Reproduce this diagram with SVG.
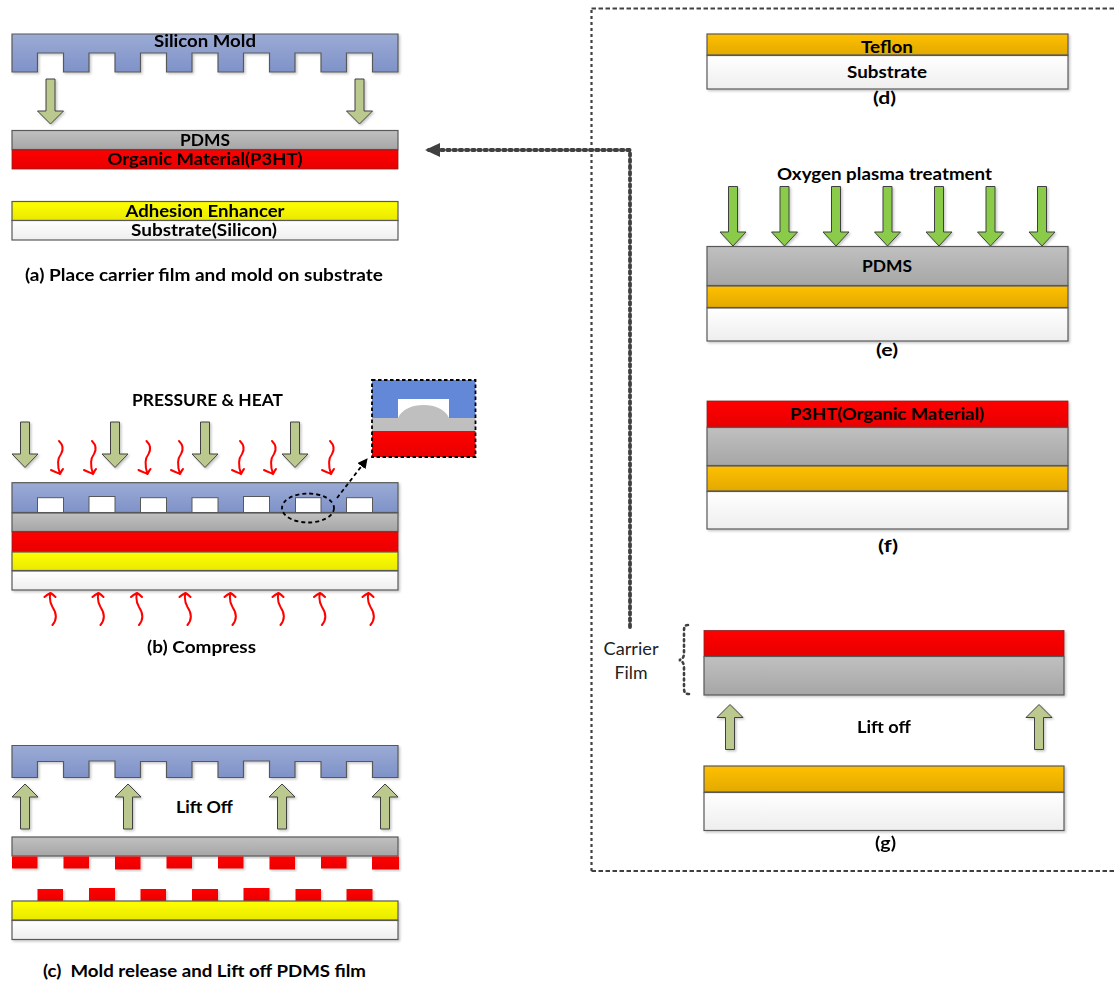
<svg xmlns="http://www.w3.org/2000/svg" width="1115" height="982" viewBox="0 0 1115 982">
<style>
text{font-family:Lato,Carlito,"Open Sans",sans-serif;fill:#000}
.b{font-weight:700;font-size:17px}
.r{font-size:18px;fill:#222}
.m{text-anchor:middle}
.ln{stroke:#595959;stroke-width:1.2}
.blue{fill:url(#gBlue)}.gray{fill:url(#gGray)}.red{fill:url(#gRed);stroke:#8a2020;stroke-width:.8}
.pad{fill:url(#gRed)}
.yel{fill:url(#gYel)}.org{fill:url(#gOrg)}.wht{fill:url(#gWht)}
.ar{fill:#bbc98f;stroke:#404040;stroke-width:1}
.gr{fill:#8acb4a;stroke:#404040;stroke-width:1}
.hw{fill:none;stroke:#ff0000;stroke-width:2;stroke-linecap:round;stroke-linejoin:round}
.dot{fill:none;stroke:#404040;stroke-linecap:round}
</style>
<defs>
<linearGradient id="gBlue" x1="0" y1="0" x2="0" y2="1"><stop offset="0" stop-color="#9babd5"/><stop offset="1" stop-color="#7f92c8"/></linearGradient>
<linearGradient id="gGray" x1="0" y1="0" x2="0" y2="1"><stop offset="0" stop-color="#c0c0c0"/><stop offset="1" stop-color="#a6a6a6"/></linearGradient>
<linearGradient id="gRed" x1="0" y1="0" x2="0" y2="1"><stop offset="0" stop-color="#ff0000"/><stop offset="1" stop-color="#e80000"/></linearGradient>
<linearGradient id="gYel" x1="0" y1="0" x2="0" y2="1"><stop offset="0" stop-color="#ffff00"/><stop offset="1" stop-color="#e9e900"/></linearGradient>
<linearGradient id="gOrg" x1="0" y1="0" x2="0" y2="1"><stop offset="0" stop-color="#ffc000"/><stop offset="1" stop-color="#e2a900"/></linearGradient>
<linearGradient id="gWht" x1="0" y1="0" x2="0" y2="1"><stop offset="0" stop-color="#ffffff"/><stop offset="1" stop-color="#eeeeee"/></linearGradient>
<filter id="sh" x="-5%" y="-10%" width="110%" height="125%"><feDropShadow dx="1.5" dy="1.5" stdDeviation="1" flood-color="#000" flood-opacity=".22"/></filter>
<marker id="tip" markerUnits="userSpaceOnUse" markerWidth="16" markerHeight="16" refX="14" refY="7" orient="auto"><path d="M0 0L15 7L0 14Z" fill="#404040"/></marker>
<marker id="tip2" markerUnits="userSpaceOnUse" markerWidth="12" markerHeight="12" refX="9" refY="5" orient="auto"><path d="M0 0L10 5L0 10Z" fill="#000"/></marker>
<path id="down" d="M-4.500 0H4.500V32H13L0 45L-13 32H-4.500Z"/>
<path id="up" d="M0 0L13 13H4.500V45H-4.500V13H-13Z"/>
<path id="wd" d="M0 0C4 4 5 8 2 13C-2 18 -2 24 1 33M-8 29C-4 31 -1 32 1 33C2 31 3 29 4 28"/>
<path id="wu" d="M2 32C7 26 6 20 2 14C-1 9 -1 4 0 0M-6 4C-4 2 -2 1 0 0C2 1 4 3 5 4"/>
</defs>

<g id="mold-a" filter="url(#sh)"><path class="blue ln" d="M12 34H398V72H372.500V53H346.500V72H321V53H295V72H269.500V53H243.500V72H218V53H192V72H166.500V53H140.500V72H115V53H89V72H63.500V53H37.500V72H12Z"/><text class="b m" x="205" y="46.500" textLength="102" lengthAdjust="spacingAndGlyphs">Silicon Mold</text></g>
<g id="arrows-a" filter="url(#sh)"><use href="#down" class="ar" x="50.500" y="79"/><use href="#down" class="ar" x="359.500" y="79"/></g>
<g id="pdms-a"><rect class="gray ln" x="12" y="130.500" width="386" height="19"/><text class="b m" x="205" y="145.500" textLength="50" lengthAdjust="spacingAndGlyphs">PDMS</text></g>
<g id="organic-a"><rect class="red" x="12" y="150" width="386" height="19"/><text class="b m" x="205" y="165" textLength="195" lengthAdjust="spacingAndGlyphs">Organic Material(P3HT)</text></g>
<g id="adhesion-a"><rect class="yel ln" x="12" y="201.500" width="386" height="19"/><text class="b m" x="205" y="217" textLength="159" lengthAdjust="spacingAndGlyphs">Adhesion Enhancer</text></g>
<g id="substrate-a"><rect class="wht ln" x="12" y="220.500" width="386" height="19.500"/><text class="b m" x="204" y="236" textLength="146" lengthAdjust="spacingAndGlyphs">Substrate(Silicon)</text></g>
<text class="b m" x="204" y="281" textLength="358" lengthAdjust="spacingAndGlyphs">(a) Place carrier film and mold on substrate</text>

<text class="b m" x="207.500" y="406" textLength="151" lengthAdjust="spacingAndGlyphs">PRESSURE &amp; HEAT</text>
<g id="arrows-b" filter="url(#sh)"><path class="ar" d="M20.500 422H29.500V454H38L25 467.500L12 454H20.500Z"/><path class="ar" d="M110.500 422H119.500V454H128L115 467.500L102 454H110.500Z"/><path class="ar" d="M200.500 422H209.500V454H218L205 467.500L192 454H200.500Z"/><path class="ar" d="M290.500 422H299.500V454H308L295 467.500L282 454H290.500Z"/></g>
<g id="heat-top"><use href="#wd" class="hw" x="59" y="441"/><use href="#wd" class="hw" x="92" y="441"/><use href="#wd" class="hw" x="146.500" y="441"/><use href="#wd" class="hw" x="179" y="441"/><use href="#wd" class="hw" x="240" y="441"/><use href="#wd" class="hw" x="272" y="441"/><use href="#wd" class="hw" x="330" y="441"/></g>
<g id="mold-b" filter="url(#sh)"><rect class="blue ln" x="12" y="482.700" width="386" height="29.800"/>
<g fill="#fff" stroke="#595959"><rect x="37.500" y="497.700" width="26" height="14.800"/><rect x="89" y="496.500" width="26" height="16"/><rect x="140.500" y="497.700" width="26" height="14.800"/><rect x="192" y="497.700" width="26" height="14.800"/><rect x="243.500" y="496.500" width="26" height="16"/><rect x="295.500" y="497.700" width="25.500" height="14.800"/><rect x="346.500" y="497.700" width="26" height="14.800"/></g></g>
<g id="stack-b" filter="url(#sh)"><rect class="gray ln" x="12" y="513" width="386" height="18.500"/><rect class="red" x="12" y="532" width="386" height="19.500"/><rect class="yel ln" x="12" y="552" width="386" height="18.500"/><rect class="wht ln" x="12" y="571" width="386" height="19"/></g>
<g id="heat-bottom"><use href="#wu" class="hw" x="50.500" y="593"/><use href="#wu" class="hw" x="98.500" y="593"/><use href="#wu" class="hw" x="137" y="593"/><use href="#wu" class="hw" x="185.500" y="593"/><use href="#wu" class="hw" x="230.500" y="593"/><use href="#wu" class="hw" x="278.500" y="593"/><use href="#wu" class="hw" x="320" y="593"/><use href="#wu" class="hw" x="368.500" y="593"/></g>
<g id="zoom-ring"><ellipse cx="308" cy="508" rx="26" ry="14.500" fill="none" stroke="#000" stroke-width="1.800" stroke-dasharray="4 3"/></g>
<g id="inset"><rect x="372" y="380" width="103.500" height="38" fill="#6488d8"/><rect x="398" y="399" width="51" height="19" fill="#fff"/><path d="M398 418C402 409 412 405 423.500 405C435 405 445 409 449 418Z" fill="#bfbfbf"/><rect x="372" y="418" width="103.500" height="13" fill="#bfbfbf"/><rect class="pad" x="372" y="431" width="103.500" height="26"/><rect x="372" y="380" width="103.500" height="77" fill="none" stroke="#000" stroke-width="1.800" stroke-dasharray="3.500 2.500"/></g>
<text class="b m" x="201.500" y="653" textLength="109" lengthAdjust="spacingAndGlyphs">(b) Compress</text>

<g id="mold-c" filter="url(#sh)"><path class="blue ln" d="M12 745.500H398V777.500H372.500V761.500H346.500V777.500H321V761.500H295V777.500H269.500V761H243.500V777.500H218V761.500H192V777.500H166.500V761.500H140.500V777.500H115V761H89V777.500H63.500V761.500H37.500V777.500H12Z"/></g>
<g id="arrows-c" filter="url(#sh)"><use href="#up" class="ar" x="25" y="784"/><use href="#up" class="ar" x="128" y="784"/><use href="#up" class="ar" x="282" y="784"/><use href="#up" class="ar" x="385" y="784"/></g>
<text class="b m" x="204.500" y="813" textLength="57" lengthAdjust="spacingAndGlyphs">Lift Off</text>
<g id="pdms-c" filter="url(#sh)"><rect class="gray ln" x="12" y="837" width="386" height="19"/></g>
<g id="pads-upper" filter="url(#sh)"><rect class="pad" x="12" y="856.500" width="25.500" height="12"/><rect class="pad" x="63.500" y="856.500" width="25.500" height="12"/><rect class="pad" x="115" y="856.500" width="25.500" height="13"/><rect class="pad" x="166.500" y="856.500" width="25.500" height="12"/><rect class="pad" x="218" y="856.500" width="25.500" height="12"/><rect class="pad" x="269.500" y="856.500" width="25.500" height="13"/><rect class="pad" x="321" y="856.500" width="25.500" height="12"/><rect class="pad" x="372" y="856.500" width="27" height="13"/></g>
<g id="pads-lower" filter="url(#sh)"><rect class="pad" x="37.500" y="889" width="25.500" height="12"/><rect class="pad" x="89" y="888" width="26" height="13"/><rect class="pad" x="140.500" y="889" width="25.500" height="12"/><rect class="pad" x="192" y="889" width="26" height="12"/><rect class="pad" x="243.500" y="888" width="26" height="13"/><rect class="pad" x="295.500" y="889" width="25.500" height="12"/><rect class="pad" x="346.500" y="889" width="26" height="12"/></g>
<g id="stack-c" filter="url(#sh)"><rect class="yel ln" x="12" y="901" width="386" height="19"/><rect class="wht ln" x="12" y="920.500" width="386" height="19"/></g>
<text class="b m" x="204.500" y="977" textLength="323" lengthAdjust="spacingAndGlyphs" xml:space="preserve">(c)  Mold release and Lift off PDMS film</text>

<g id="stack-d" filter="url(#sh)"><rect class="org ln" x="707" y="34" width="361" height="21"/><rect class="wht ln" x="707" y="55.500" width="361" height="33.500"/></g>
<text class="b m" x="887" y="52.500" textLength="52" lengthAdjust="spacingAndGlyphs">Teflon</text>
<text class="b m" x="887" y="77.500" textLength="80" lengthAdjust="spacingAndGlyphs">Substrate</text>
<text class="b m" x="884.500" y="103.500" textLength="23" lengthAdjust="spacingAndGlyphs">(d)</text>

<text class="b m" x="884.500" y="179.500" textLength="215" lengthAdjust="spacingAndGlyphs">Oxygen plasma treatment</text>
<g id="arrows-e" filter="url(#sh)"><path class="gr" d="M728.500 186.500H737.500V232H746L733 246L720 232H728.500Z"/><path class="gr" d="M780 186.500H789V232H797.500L784.500 246L771.500 232H780Z"/><path class="gr" d="M831.500 186.500H840.500V232H849L836 246L823 232H831.500Z"/><path class="gr" d="M883 186.500H892V232H900.500L887.500 246L874.500 232H883Z"/><path class="gr" d="M934.500 186.500H943.500V232H952L939 246L926 232H934.500Z"/><path class="gr" d="M986 186.500H995V232H1003.500L990.500 246L977.500 232H986Z"/><path class="gr" d="M1037.500 186.500H1046.500V232H1055L1042 246L1029 232H1037.500Z"/></g>
<g id="stack-e" filter="url(#sh)"><rect class="gray ln" x="707" y="246.500" width="361" height="39"/><rect class="org ln" x="707" y="286" width="361" height="21.500"/><rect class="wht ln" x="707" y="308" width="361" height="33"/></g>
<text class="b m" x="887" y="272" textLength="50" lengthAdjust="spacingAndGlyphs">PDMS</text>
<text class="b m" x="887" y="356" textLength="22" lengthAdjust="spacingAndGlyphs">(e)</text>

<g id="stack-f" filter="url(#sh)"><rect class="red" x="707" y="401" width="361" height="26"/><rect class="gray ln" x="707" y="427.500" width="361" height="38"/><rect class="org ln" x="707" y="466" width="361" height="25"/><rect class="wht ln" x="707" y="491.500" width="361" height="37.500"/></g>
<text class="b m" x="887" y="420" textLength="194" lengthAdjust="spacingAndGlyphs">P3HT(Organic Material)</text>
<text class="b m" x="888" y="552" textLength="20" lengthAdjust="spacingAndGlyphs">(f)</text>

<text class="r m" x="631" y="655" textLength="55" lengthAdjust="spacingAndGlyphs">Carrier</text>
<text class="r m" x="631" y="679" textLength="33" lengthAdjust="spacingAndGlyphs">Film</text>
<g id="carrier-g" filter="url(#sh)"><rect class="red" x="704" y="630.500" width="360" height="25.500"/><rect class="gray ln" x="704" y="656.500" width="360" height="38.500"/></g>
<g id="arrows-g" filter="url(#sh)"><use href="#up" class="ar" x="730" y="704.500"/><use href="#up" class="ar" x="1039" y="704.500"/></g>
<text class="b m" x="884" y="733" textLength="54" lengthAdjust="spacingAndGlyphs">Lift off</text>
<g id="base-g" filter="url(#sh)"><rect class="org ln" x="704" y="766" width="360" height="26"/><rect class="wht ln" x="704" y="792.500" width="360" height="38"/></g>
<text class="b m" x="885.500" y="848.500" textLength="21" lengthAdjust="spacingAndGlyphs">(g)</text>

<g id="connectors">
<path class="dot" d="M591.500 871V8.500" stroke-width="2.200" stroke-dasharray="3 3" style="stroke-linecap:butt"/>
<path class="dot" d="M591.500 8.500H1115" stroke-width="1.800" stroke-dasharray="4.500 2.500" style="stroke-linecap:butt"/>
<path class="dot" d="M591.500 871H1115" stroke-width="1.800" stroke-dasharray="4.500 2.500" style="stroke-linecap:butt"/>
<path class="dot" d="M630 627V150H426" stroke-width="3.800" stroke-dasharray="2.500 3.700" marker-end="url(#tip)"/>
<path class="dot" d="M688 625C684 625 684 628 684 632V652C684 657 683 659 679 660C683 661 684 664 684 668V688C684 692 685 694 689 694" stroke-width="2.600" stroke-dasharray="2 3.500"/>
<path d="M337 498L367 459" fill="none" stroke="#000" stroke-width="1.800" stroke-dasharray="4 3" marker-end="url(#tip2)"/>
</g>
</svg>
